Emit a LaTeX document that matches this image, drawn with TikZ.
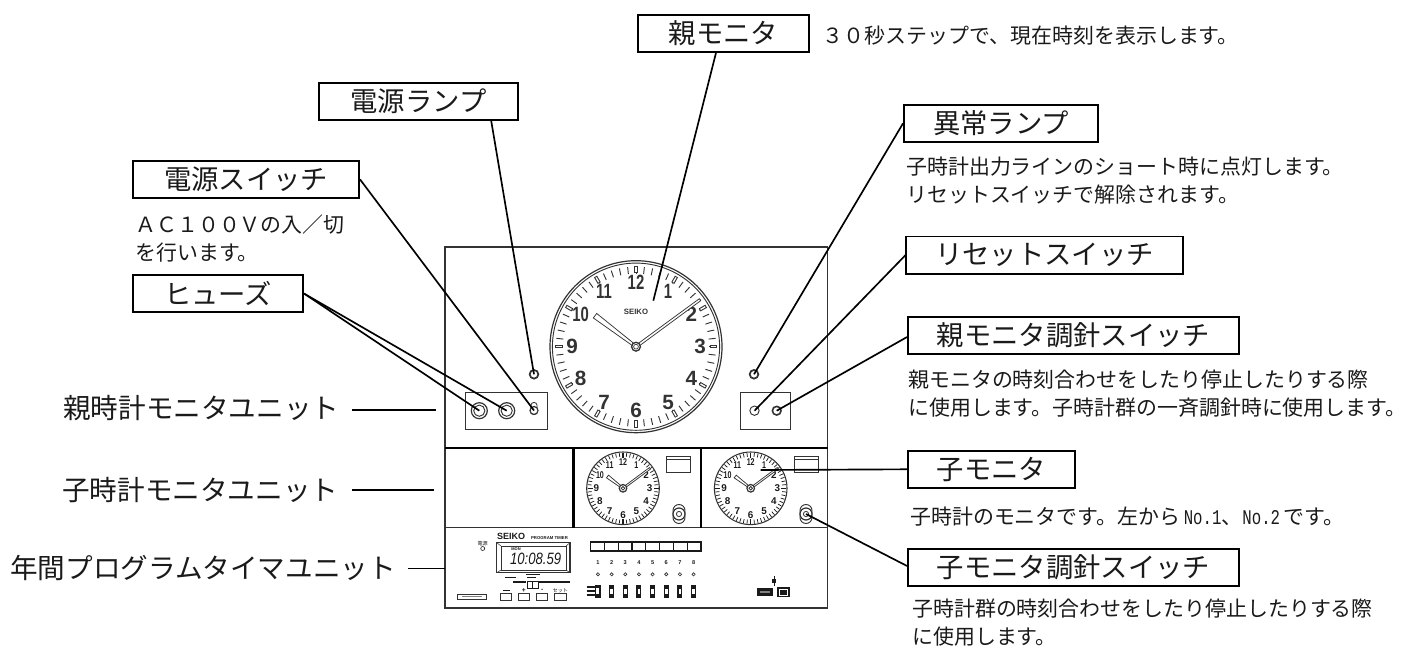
\documentclass[tikz,border=0pt]{standalone}
\usepackage{fontspec}
\usepackage{graphicx}
\setmainfont{Liberation Sans}
\newfontfamily\jp{Noto Sans CJK JP}
\newfontfamily\latinmono{Liberation Mono}
\usetikzlibrary{calc}
\definecolor{ink}{HTML}{1A1A1A}
\definecolor{panel}{HTML}{333333}
\tikzset{
  labelbox/.style={draw=black,line width=1.4pt,fill=white,minimum height=28pt,inner sep=0pt,font=\jp\fontsize{20.5}{24}\selectfont,text=ink},
  unitlabel/.style={anchor=west,inner sep=0pt,font=\jp\fontsize{20.7}{24}\selectfont,text=ink},
  desc/.style={anchor=west,inner sep=0pt,align=left,font=\jp\fontsize{15.7}{21}\selectfont,text=ink},
  conn/.style={draw=black,line width=1.25pt},
  unitconn/.style={draw=black,line width=1pt},
  pline/.style={draw=panel,line width=.8pt},
  divider/.style={draw=black,line width=1.7pt},
  ring/.style={circle,draw=panel,line width=.9pt,fill=white,inner sep=0pt},
  handst/.style={draw=panel,line width=.55pt,fill=white},
  mnum/.style={inner sep=0pt,font=\bfseries\fontsize{15.5}{16}\selectfont,text=panel},
  cnum/.style={inner sep=0pt,font=\bfseries\fontsize{7.4}{8}\selectfont,text=ink},
  tiny/.style={inner sep=0pt,font=\bfseries\fontsize{3.2}{4}\selectfont,text=ink},
  tinyjp/.style={inner sep=0pt,font=\jp\fontsize{3.8}{4}\selectfont,text=ink},
}
\newcommand{\clocklabel}[1]{\ifnum#1>9 \scalebox{.72}[1]{#1}\else\ifnum#1=1 \scalebox{.72}[1]{#1}\else #1\fi\fi}
\newcommand{\handshape}[6]{%
  \pgfmathsetmacro\hl{veclen(#3,#4)}%
  \pgfmathsetmacro\nxx{-(#4)/\hl}%
  \pgfmathsetmacro\nyy{(#3)/\hl}%
  \filldraw[handst] ({#1+\nxx*#6},{#2+\nyy*#6}) -- ({#1+#3+\nxx*#5},{#2+#4+\nyy*#5}) -- ({#1+#3-\nxx*#5},{#2+#4-\nyy*#5}) -- ({#1-\nxx*#6},{#2-\nyy*#6}) -- cycle;}
\newcommand{\childclock}[3]{%
  \draw[draw=panel,line width=.8pt] (#1,#2) circle (36.3);
  \foreach \a in {0,6,...,354}{
    \draw[draw=ink,line width=.55pt] ({#1+35.5*sin(\a)},{#2-35.5*cos(\a)}) -- ({#1+31.5*sin(\a)},{#2-31.5*cos(\a)});}
  \foreach \a in {0,90,180,270}{
    \draw[draw=ink,line width=1.1pt] ({#1+35.5*sin(\a)},{#2-35.5*cos(\a)}) -- ({#1+30.5*sin(\a)},{#2-30.5*cos(\a)});}
  \foreach \h in {1,...,12}{
    \node[cnum] (#3-\h) at ({#1+26.6*sin(30*\h)},{#2-26.6*cos(30*\h)}) {\clocklabel{\h}};}
  \handshape{#1}{#2}{-15.5}{-11.8}{1.7}{.7}
  \handshape{#1}{#2}{27}{-20}{.9}{.9}
  \draw[draw=panel,line width=.9pt,fill=white] (#1,#2) circle (3.8);
  \draw[draw=panel,line width=.6pt,fill=white] (#1,#2) circle (1.8);
}
\newcommand{\togglesw}[3]{%
  \draw[draw=panel,line width=.7pt,fill=white,rounded corners=4.5pt] (#1-6,#2-9.5) rectangle (#1+6,#2+9.5);
  \node[ring,minimum size=9pt] (#3) at (#1,#2) {};
  \draw[draw=panel,line width=.6pt] (#1,#2) circle (2.6);
}
\begin{document}
\begin{tikzpicture}[x=.75pt,y=-.75pt]
\useasboundingbox (0,0) rectangle (1424,648);
% cabinet
\draw[pline] (445,247) rectangle (827.5,608);
\draw[divider] (445,448) -- (827.5,448);
\draw[pline,line width=1.1pt] (445,527.5) -- (827.5,527.5);
\draw[divider] (573.5,448) -- (573.5,527.5);
\draw[divider] (700.7,448) -- (700.7,527.5);
% main clock
\draw[draw=panel,line width=.9pt] (636,346.7) circle (86);
\draw[draw=panel,line width=.7pt] (636,346.7) circle (83.6);
\foreach \a in {0,6,...,354}{
  \draw[draw=panel,line width=.7pt] ({636+80*sin(\a)},{346.7-80*cos(\a)}) -- ({636+73*sin(\a)},{346.7-73*cos(\a)});}
\foreach \a in {0,30,...,330}{
  \draw[draw=panel,line width=2.6pt] ({636+81*sin(\a)},{346.7-81*cos(\a)}) -- ({636+73.5*sin(\a)},{346.7-73.5*cos(\a)});
  \draw[draw=white,line width=1pt] ({636+80*sin(\a)},{346.7-80*cos(\a)}) -- ({636+74.5*sin(\a)},{346.7-74.5*cos(\a)});}
\foreach \h in {1,...,12}{
  \node[mnum] (m-\h) at ({636+64*sin(30*\h)},{346.7-64*cos(30*\h)}) {\clocklabel{\h}};}
\node[inner sep=0pt,font=\bfseries\fontsize{5.8}{6}\selectfont,text=panel] (logoM) at (636,311.7) {SEIKO};
\handshape{636}{346.7}{-41}{-31}{2.8}{1.2}
\handshape{636}{346.7}{64}{-47}{1.2}{1.3}
\draw[draw=panel,line width=1pt,fill=white] (636,346.7) circle (4.4);
\draw[draw=panel,line width=.5pt,fill=white] (636,346.7) circle (2.4);
% master monitor unit parts
\draw[pline] (465.7,392.7) rectangle (547.7,429.3);
\draw[pline] (740.7,392.7) rectangle (790.7,429.3);
\node[ring,minimum size=12pt] (fuseA) at (479.3,410.7) {};
\draw[draw=panel,line width=.7pt] (fuseA.center) circle (5.6);
\node[ring,minimum size=12pt] (fuseB) at (506.7,410.7) {};
\draw[draw=panel,line width=.7pt] (fuseB.center) circle (5.6);
\draw[draw=panel,line width=.6pt,fill=white,rounded corners=2pt] (531,402.5) rectangle (537,414.5);
\node[ring,minimum size=6pt] (powersw) at (534,410.5) {};
\node[ring,line width=1.3pt,minimum size=6.5pt] (lampL) at (534,374.3) {};
\node[ring,line width=1.3pt,minimum size=6.5pt] (lampR) at (754,374.3) {};
\node[ring,line width=.7pt,minimum size=7pt] (resetsw) at (754.5,410.7) {};
\node[ring,line width=1.2pt,minimum size=6.5pt] (mastersw) at (776.7,410.7) {};
% child clocks
\childclock{623}{488.3}{ca}
\childclock{750.7}{488.3}{cb}
\foreach \x in {666.7,794.3}{
  \draw[pline] (\x,456.7) rectangle (\x+24,472.7);
  \draw[draw=panel,line width=.5pt] (\x,459) -- (\x+24,459);}
\togglesw{679}{514}{swA}
\togglesw{806}{514}{swB}
\coordinate (childface) at (760.7,470);
% program timer unit
\node[inner sep=0pt,font=\bfseries\fontsize{6.75}{7}\selectfont,text=ink] (logoP) at (511,536) {SEIKO};
\node[tiny] (progtitle) at (549.5,537.7) {PROGRAM TIMER};
\node[tinyjp] (lamptxt) at (482.7,543.8) {電源};
\draw[draw=panel,line width=.5pt] (482.7,548.5) circle (2);
\draw[draw=panel,line width=.8pt] (496.7,542.7) rectangle (570,572.7);
\draw[draw=panel,line width=.7pt] (501,546) rectangle (566,570);
\draw[draw=panel,line width=.4pt] (496.7,542.7) -- (501,546) (570,542.7) -- (566,546) (496.7,572.7) -- (501,570) (570,572.7) -- (566,570);
\node[inner sep=0pt,font=\itshape\fontsize{12.3}{13}\selectfont,text=ink] (digits) at (535.6,558.5) {\scalebox{.8}[1]{10:08.59}};
\node[tiny,font=\bfseries\fontsize{3}{3}\selectfont] (dayname) at (516,549.2) {MON};
\draw[draw=ink,line width=.9pt] (526,574.3) -- (540,574.3);
\draw[draw=ink,line width=.9pt] (505,577.5) -- (516,577.5) (527,577.5) -- (536,577.5);
\draw[draw=ink,line width=.9pt] (513,582) -- (526,582) (539,582) -- (570,582);
\draw[draw=ink,line width=.6pt] (527,581.7) rectangle (538.5,588.3) (532.7,581.7) -- (532.7,588.3);
\draw[draw=panel,line width=.7pt] (457.3,594.3) rectangle (486.7,599.3);
\draw[draw=gray,line width=1pt] (462,596.8) -- (482,596.8);
\foreach \xa/\xb in {500.7/511.3,518.3/529.3,536.7/547.7,554.7/566}{
  \draw[draw=panel,line width=.7pt] (\xa,593.3) rectangle (\xb,600.7);}
\draw[draw=ink,line width=1pt] (502.5,590.8) -- (509.5,590.8);
\node[tiny,font=\bfseries\fontsize{5}{5}\selectfont] (plus) at (523.8,590.3) {+};
\node[tiny,font=\bfseries\fontsize{5}{5}\selectfont] (minus) at (542.2,590.3) {-};
\node[tinyjp] (settxt) at (560.3,590.3) {セット};
\foreach \i in {0,...,7}{
  \draw[draw=ink,line width=.9pt] (590.7+13.79*\i,542) rectangle (590.7+13.79*\i+13.79,551);
}
\foreach \i in {1,...,8}{
  \node[tiny,font=\bfseries\fontsize{4.2}{5}\selectfont] (ch\i) at (584.3+13.66*\i,562.7) {\i};
  \draw[draw=panel,line width=.5pt] (584.3+13.66*\i,574.3) circle (1.6);
}
\foreach \i in {2,...,8}{
  \fill[ink] (581.8+13.66*\i,584.7) rectangle (586.8+13.66*\i,597.7);
  \fill[white] (583+13.66*\i,588.5) rectangle (585.6+13.66*\i,593.5);
}
\fill[ink] (594.5,584.7) rectangle (600.5,597.7);
\fill[white] (596,588) rectangle (599,594);
\foreach \y in {587,591,595}{\draw[draw=ink,line width=1.1pt] (586.7,\y) -- (596,\y);}
\fill[ink] (757.3,588.3) rectangle (772.7,596);
\fill[gray] (760,591) rectangle (770,593.3);
\fill[ink] (777,587.3) rectangle (790,597.3);
\draw[draw=white,line width=.5pt] (779.5,589.5) rectangle (787.5,595);
\draw[draw=ink,line width=1pt] (774.3,576) -- (774.3,585.7);
\fill[ink] (772.2,579) rectangle (776.4,582.5);
% label boxes
\node[labelbox,minimum width=149pt] (bPowerLamp) at (418.5,101.4) {電源ランプ};
\node[labelbox,minimum width=169.5pt] (bPowerSw) at (246,179.3) {電源スイッチ};
\node[labelbox,minimum width=127.5pt] (bFuse) at (218,293.5) {ヒューズ};
\node[labelbox,minimum width=128pt] (bMaster) at (723.5,33.5) {親モニタ};
\node[labelbox,minimum width=145.5pt] (bAlarm) at (1001,123.3) {異常ランプ};
\node[labelbox,line width=1pt,minimum width=207.75pt] (bReset) at (1044.5,255.3) {リセットスイッチ};
\node[labelbox,minimum width=248.25pt] (bMasterSw) at (1073.5,335.3) {親モニタ調針スイッチ};
\node[labelbox,minimum width=125.25pt] (bChild) at (991.5,469.3) {子モニタ};
\node[labelbox,minimum width=248.25pt] (bChildSw) at (1073.5,567.5) {子モニタ調針スイッチ};
% descriptions
\node[desc] (dPower) at (135,239) {ＡＣ１００Ｖの入／切\\を行います。};
\node[desc] (dMaster) at (822.7,36) {３０秒ステップで、現在時刻を表示します。};
\node[desc] (dAlarm) at (906,181) {子時計出力ラインのショート時に点灯します。\\リセットスイッチで解除されます。};
\node[desc] (dMasterSw) at (908,394) {親モニタの時刻合わせをしたり停止したりする際\\に使用します。子時計群の一斉調針時に使用します。};
\node[desc] (dChild) at (910,516.7) {子時計のモニタです。左から\,{\latinmono\scalebox{.75}[1]{No.1}}、{\latinmono\scalebox{.75}[1]{No.2}}\,です。};
\node[desc] (dChildSw) at (912,623) {子時計群の時刻合わせをしたり停止したりする際\\に使用します。};
% unit labels
\node[unitlabel] (uMaster) at (63,408) {親時計モニタユニット};
\node[unitlabel] (uChild) at (62,490) {子時計モニタユニット};
\node[unitlabel] (uTimer) at (10,568) {年間プログラムタイマユニット};
\coordinate (uMasterA) at (352,410);
\coordinate (uMasterB) at (436,410);
\coordinate (uChildA) at (352,490);
\coordinate (uChildB) at (434,490);
\coordinate (uTimerA) at (408,568.3);
\coordinate (uTimerB) at (445,568.3);
\draw[unitconn] (uMasterA) -- (uMasterB);
\draw[unitconn] (uChildA) -- (uChildB);
\draw[unitconn] (uTimerA) -- (uTimerB);
% connectors
\coordinate (masterface) at (653.3,300.7);
\draw[conn] ($(bPowerLamp.south west)+(173,0)$) -- (lampL.center);
\draw[conn] (bPowerSw.east) -- (powersw.center);
\draw[conn] (bFuse.east) -- (fuseA.center);
\draw[conn] (bFuse.east) -- (fuseB.center);
\draw[conn] ($(bMaster.south west)+(78.7,0)$) -- (masterface);
\draw[conn] (bAlarm.west) -- (lampR.center);
\draw[conn] (bReset.west) -- (resetsw.center);
\draw[conn] ($(bMasterSw.west)+(0,1.7)$) -- (mastersw.center);
\draw[conn] (bChild.west) -- (childface);
\draw[conn] ($(bChildSw.west)+(0,-1.5)$) -- (swB.center);
\end{tikzpicture}
\end{document}
